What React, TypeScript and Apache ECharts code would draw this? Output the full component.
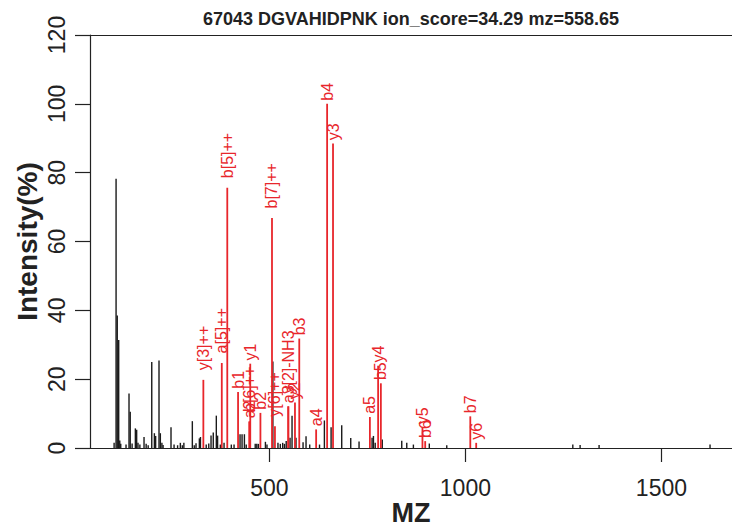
import React, { useEffect, useRef } from 'react';
import * as echarts from 'echarts';

const TITLE = '67043 DGVAHIDPNK ion_score=34.29 mz=558.65';
const X_NAME = 'MZ';
const Y_NAME = 'Intensity(%)';
const X_TICKS = [500, 1000, 1500];

// unmatched peaks (black)
const peakMz = [
  104.1, 109.1, 112.1, 115.8, 118.5, 121.0, 134.5, 142.1, 145.2, 150.0,
  158.3, 161.6, 165.0, 169.8, 180.4, 185.8, 191.0, 200.1, 206.8, 210.0,
  218.6, 222.0, 226.0, 229.0, 249.2, 257.0, 266.0, 273.0, 278.0, 282.0,
  303.6, 308.5, 313.0, 321.5, 324.3, 339.0, 345.5, 351.3, 357.0, 364.8,
  368.0, 375.0, 384.5, 403.0, 410.0, 425.3, 430.4, 436.4, 441.0, 464.0,
  468.0, 472.0, 490.0, 494.0, 509.0, 522.0, 528.0, 534.0, 538.5, 543.0,
  552.8, 557.9, 568.0, 586.0, 593.6, 603.0, 628.0, 640.4, 657.5, 684.6,
  707.6, 728.8, 762.0, 765.5, 770.0, 788.0, 837.7, 850.5, 867.4, 908.0,
  952.5, 1274.0, 1292.6, 1341.0, 1624.0,
];
const peakInt = [
  1.5, 78.2, 38.5, 31.4, 2.2, 1.2, 1.0, 15.8, 10.5, 1.3,
  5.7, 5.3, 1.5, 1.0, 3.2, 1.2, 0.8, 25.0, 4.3, 3.5,
  25.4, 4.3, 1.5, 0.9, 6.0, 1.0, 0.8, 1.5, 0.8, 1.5,
  7.8, 0.8, 1.4, 2.8, 3.2, 1.0, 1.3, 3.6, 4.5, 9.4,
  3.6, 1.0, 1.5, 1.0, 1.0, 4.0, 4.0, 4.0, 1.0, 1.2,
  1.2, 1.2, 1.8, 1.0, 25.1, 1.5, 1.2, 1.5, 1.2, 2.0,
  3.0, 9.4, 3.0, 1.7, 3.4, 1.0, 1.0, 8.0, 6.0, 6.6,
  2.9, 1.9, 3.0, 3.5, 1.5, 2.5, 2.1, 1.5, 1.0, 1.3,
  0.8, 1.0, 0.9, 0.9, 1.0,
];

// matched fragment ions (red)
const ionLabels = [
  'y[3]++', 'a[5]++', 'b[5]++', 'b1', 'a2', 'b[6]++', 'y1', 'b2', 'b[7]++', 'y[6]++',
  'a3', 'y[2]-NH3', 'y2', 'b3', 'a4', 'b4', 'y3', 'a5', 'y4', 'b5',
  'y5', 'b6', 'b7', 'y6',
];
const ionMz = [
  331.71, 378.72, 392.72, 420.24, 449.27, 449.26, 451.32, 477.26, 506.77, 514.30,
  548.33, 548.33, 565.36, 576.33, 619.37, 647.37, 662.41, 756.43, 777.44, 784.43,
  890.53, 897.51, 1012.54, 1027.58,
];
const ionInt = [
  19.8, 24.7, 75.6, 16.3, 7.7, 7.7, 24.5, 10.2, 66.8, 6.3,
  12.1, 12.1, 13.2, 31.8, 5.4, 100, 88.5, 9.0, 23.9, 18.8,
  6.0, 2.0, 9.2, 1.5,
];

const FONT = 'Liberation Sans, Arial, Helvetica, sans-serif';
const RED = '#e8262b';
const BLACK = '#1a1a1a';

export default function App() {
  const ref = useRef<HTMLDivElement>(null);
  useEffect(() => {
    const chart = echarts.init(ref.current!, null, { renderer: 'svg' });
    const makeRender = (color: string, width: number, labels: string[] | null) =>
      (params: any, api: any) => {
        const mz = api.value(0);
        const it = api.value(1);
        const top = api.coord([mz, it]);
        const base = api.coord([mz, 0]);
        const children: any[] = [
          {
            type: 'line',
            shape: { x1: top[0], y1: base[1], x2: top[0], y2: top[1] },
            style: { stroke: color, lineWidth: width },
          },
        ];
        if (labels) {
          const name = labels[params.dataIndex];
          children.push({
            type: 'text',
            x: top[0],
            y: top[1] - name.length * 1.6,
            rotation: Math.PI / 2,
            style: {
              text: name,
              fill: color,
              fontSize: 16,
              fontFamily: FONT,
              align: 'left',
              verticalAlign: 'middle',
            },
          });
        }
        return { type: 'group', children };
      };

    const option: any = {
      animation: false,
      title: {
        text: TITLE,
        left: 411,
        top: 10,
        padding: 0,
        textAlign: 'center',
        textStyle: { fontSize: 18, fontWeight: 'bold', fontFamily: FONT, color: '#222' },
      },
      grid: { left: 90, right: 0, top: 35, bottom: 81, outerBoundsMode: 'none', containLabel: false },
      xAxis: [
        {
          type: 'value',
          min: 42.6,
          max: 1680,
          position: 'bottom',
          name: X_NAME,
          nameLocation: 'middle',
          nameGap: 51,
          nameMoveOverlap: false,
          nameTextStyle: { fontSize: 27, lineHeight: 27, fontWeight: 'bold', fontFamily: FONT, color: '#222' },
          axisLine: { show: true, lineStyle: { color: '#222', width: 1.2 } },
          axisTick: { show: true, customValues: X_TICKS, length: 14, lineStyle: { color: '#222', width: 1.2 } },
          axisLabel: {
            customValues: X_TICKS,
            formatter: (v: number) => String(Math.round(v)),
            fontSize: 23,
            fontFamily: FONT,
            color: '#222',
            margin: 28,
          },
          splitLine: { show: false },
        },
        {
          type: 'value',
          min: 42.6,
          max: 1680,
          position: 'top',
          axisLine: { show: true, lineStyle: { color: '#222', width: 1.2 } },
          axisTick: { show: false },
          axisLabel: { show: false },
          splitLine: { show: false },
        },
      ],
      yAxis: {
        type: 'value',
        min: 0,
        max: 120,
        interval: 20,
        name: Y_NAME,
        nameLocation: 'middle',
        nameGap: 49,
        nameMoveOverlap: false,
        nameTextStyle: { fontSize: 28, fontWeight: 'bold', fontFamily: FONT, color: '#222' },
        axisLine: { show: true, lineStyle: { color: '#222', width: 1.2 } },
        axisTick: { show: true, length: 15, lineStyle: { color: '#222', width: 1.2 } },
        axisLabel: { rotate: 90, fontSize: 23, fontFamily: FONT, color: '#222', margin: 22 },
        splitLine: { show: false },
      },
      series: [
        {
          type: 'custom',
          name: 'peaks',
          xAxisIndex: 0,
          encode: { x: 0, y: 1 },
          data: peakMz.map((m, i) => [m, peakInt[i]]),
          renderItem: makeRender(BLACK, 1.4, null),
          clip: true,
        },
        {
          type: 'custom',
          name: 'ions',
          xAxisIndex: 0,
          encode: { x: 0, y: 1 },
          data: ionMz.map((m, i) => [m, ionInt[i]]),
          renderItem: makeRender(RED, 1.8, ionLabels),
        },
      ],
    };
    chart.setOption(option);
    return () => chart.dispose();
  }, []);
  return <div ref={ref} style={{ position: 'absolute', left: 0, top: 0, width: 732, height: 529 }} />;
}
